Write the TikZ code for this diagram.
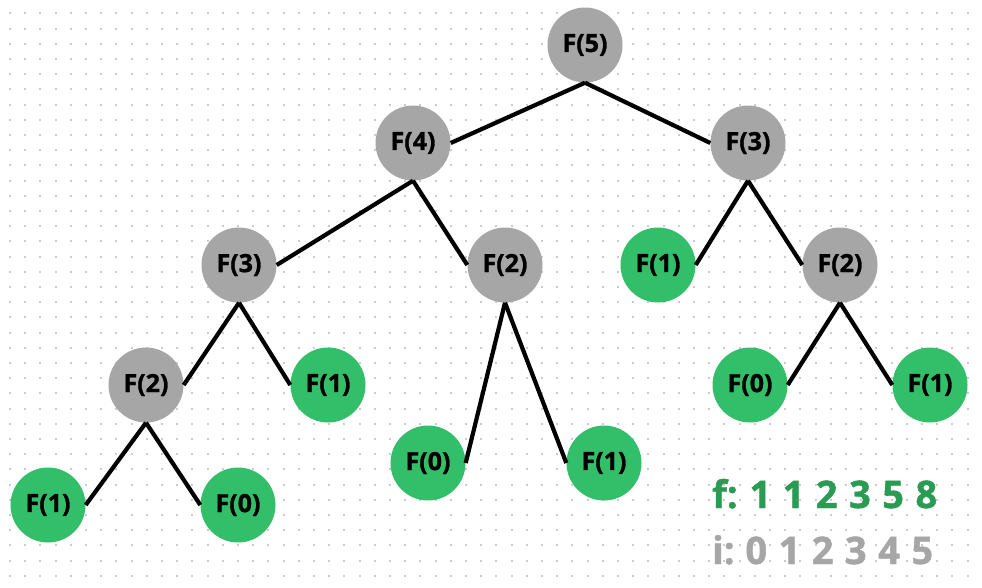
\documentclass[tikz,border=0pt]{standalone}
\usepackage{fontspec}
\setmainfont{Open Sans}[BoldFeatures={FakeBold=1.2}]
\definecolor{nodegray}{HTML}{A6A6A6}
\definecolor{nodegreen}{HTML}{33BF69}
\definecolor{textgreen}{HTML}{2A9B52}
\definecolor{dotcol}{HTML}{CACAD6}
\newcommand{\wideskip}{\spaceskip=11.5pt\relax}
\tikzset{
  fnode/.style={circle, minimum size=75pt, inner sep=0pt, font=\fontsize{25}{27}\selectfont\bfseries, text=black},
  gnode/.style={fnode, fill=nodegray},
  lnode/.style={fnode, fill=nodegreen},
  edge/.style={line width=4.2pt, black},
  rowtext/.style={anchor=base west, inner sep=0pt, font=\fontsize{38}{40}\selectfont\bfseries},
}
\begin{document}
\begin{tikzpicture}[x=1pt,y=-1pt]
\useasboundingbox (0,0) rectangle (982,587);
\fill[white] (0,0) rectangle (982,587);
\foreach \i in {0,...,64} {
  \foreach \j in {0,...,38} {
    \fill[dotcol] ({10+15.2*\i-1},{13.3+15.2*\j-1}) rectangle ++(2,2);
  }
}
\node[gnode] (f5) at (585,45) {F(5)};
\node[gnode] (f4) at (413,143) {F(4)};
\node[gnode] (f3r) at (748,143) {F(3)};
\node[gnode] (f3l) at (239,265) {F(3)};
\node[gnode] (f2m) at (505,265) {F(2)};
\node[lnode] (f1a) at (658,265) {F(1)};
\node[gnode] (f2r) at (840,265) {F(2)};
\node[gnode] (f2l) at (146,385) {F(2)};
\node[lnode] (f1b) at (328,385) {F(1)};
\node[lnode] (f0a) at (750,385) {F(0)};
\node[lnode] (f1c) at (930,385) {F(1)};
\node[lnode] (f0b) at (428,463) {F(0)};
\node[lnode] (f1d) at (604,463) {F(1)};
\node[lnode] (f1e) at (48,505) {F(1)};
\node[lnode] (f0c) at (238,505) {F(0)};

\draw[edge] (f5.south) -- (f4.east);
\draw[edge] (f5.south) -- (f3r.west);
\draw[edge] (f4.south) -- (f3l.east);
\draw[edge] (f4.south) -- (f2m.west);
\draw[edge] (f3r.south) -- (f1a.east);
\draw[edge] (f3r.south) -- (f2r.west);
\draw[edge] (f3l.south) -- (f2l.east);
\draw[edge] (f3l.south) -- (f1b.west);
\draw[edge] (f2m.south) -- (f0b.east);
\draw[edge] (f2m.south) -- (f1d.west);
\draw[edge] (f2r.south) -- (f0a.east);
\draw[edge] (f2r.south) -- (f1c.west);
\draw[edge] (f2l.south) -- (f1e.east);
\draw[edge] (f2l.south) -- (f0c.west);

\node[rowtext, text=textgreen] (frow) at (712,508) {\wideskip f:\hspace{-3pt} 1 1 2 3 5 8};
\node[rowtext, text=nodegray] (irow) at (712,564) {\wideskip i:\hspace{-4pt} 0 1 2 3 4 5};
\end{tikzpicture}
\end{document}
